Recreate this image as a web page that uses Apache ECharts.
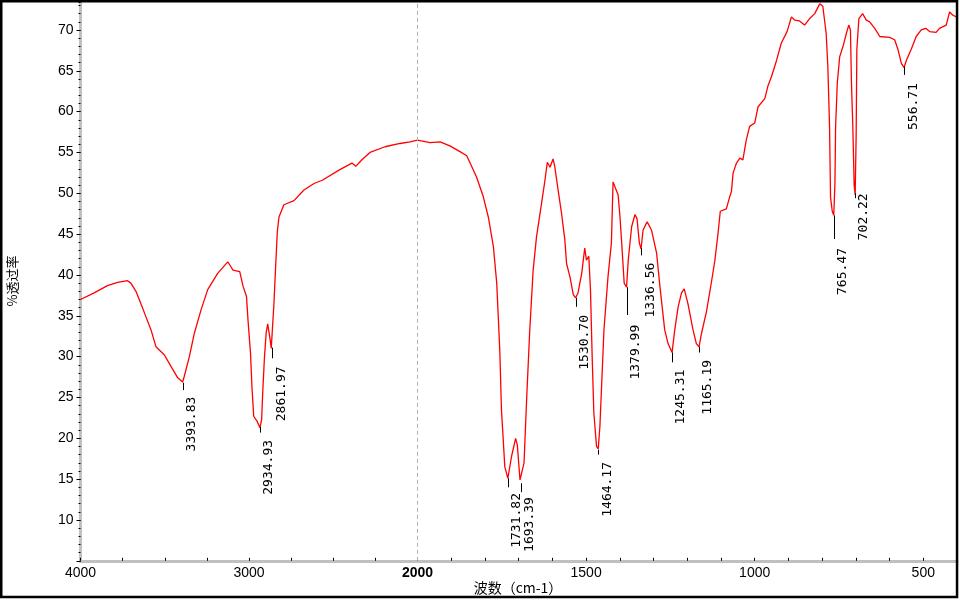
<!DOCTYPE html>
<html>
<head>
<meta charset="utf-8">
<script src="https://cdn.jsdelivr.net/npm/echarts@6/dist/echarts.min.js"></script>
<style>html,body{margin:0;padding:0;background:#fff}#c{width:960px;height:600px}</style>
</head>
<body>
<div id="c"></div>
<script>
// ---- data: wavenumber (cm-1) and % transmittance ----
const wnHigh = [4000,3919,3840,3780,3721,3701,3671,3642,3612,3582,3552,3502,3463,3423,3394,3384,3354,3324,3285,3245,3186,3126,3110,3095,3055,3035,3015,3006,2991,2982,2972,2950,2935,2925,2918,2908,2898,2889,2876,2868,2862,2852,2842,2832,2822,2793,2733,2674,2614,2565,2461,2389,2366,2330,2282,2193,2104,2044,2000];
const tHigh = [37.0,37.8,38.7,39.1,39.3,39.0,38.0,36.5,34.9,33.3,31.2,30.2,28.8,27.4,26.9,27.6,30.0,32.9,35.7,38.2,40.2,41.6,41.1,40.6,40.4,38.6,37.4,34.5,30.4,26.1,22.7,22.0,21.3,22.3,25.9,30.0,32.9,34.0,32.3,31.0,30.8,36.5,41.0,45.3,47.1,48.6,49.1,50.4,51.2,51.6,52.9,53.7,53.3,54.1,55.0,55.7,56.1,56.3,56.5];
const wnLow = [2000,1963,1933,1904,1874,1854,1844,1825,1805,1790,1775,1765,1756,1751,1741,1732,1721,1709,1704,1696,1693,1684,1676,1667,1657,1647,1632,1622,1615,1607,1598,1593,1583,1573,1563,1558,1548,1538,1531,1524,1513,1504,1499,1492,1487,1482,1477,1469,1464,1459,1447,1435,1425,1420,1415,1405,1400,1395,1387,1380,1375,1365,1355,1349,1342,1337,1331,1319,1306,1291,1281,1267,1257,1245,1237,1227,1217,1209,1198,1183,1173,1165,1158,1143,1128,1118,1109,1102,1084,1074,1069,1064,1054,1044,1035,1025,1015,1000,990,970,961,950,935,921,904,891,881,867,852,837,822,807,798,788,783,778,775,770,765.5,762,760,755,748,738,728,721,716,713,709,705,702,699,697,691,680,669,659,644,629,600,585,575,565,557,550,536,521,506,493,481,462,452,432,422,412,402];
const tLow = [56.5,56.2,56.3,55.8,55.1,54.6,53.7,52.0,49.6,47.1,43.5,39.0,30.8,23.5,16.5,15.1,17.8,20.0,19.2,14.9,14.7,17.0,25.1,33.3,40.6,44.7,48.8,51.6,53.8,53.2,54.2,53.3,50.4,47.6,44.3,41.4,39.8,37.6,37.2,37.8,40.2,43.3,41.8,42.3,38.2,30.0,23.1,19.0,18.7,21.5,33.3,39.8,43.9,51.4,51.6,49.8,47.4,44.3,39.0,38.5,41.8,45.9,47.4,46.9,43.9,43.2,45.5,46.5,45.5,42.7,38.6,33.3,31.6,30.5,33.3,36.1,37.8,38.3,36.5,33.3,31.6,31.2,32.8,35.5,39.2,41.8,45.0,47.8,48.1,49.6,50.2,52.5,53.7,54.3,54.1,56.5,58.2,58.6,60.6,61.6,63.1,64.3,66.3,68.4,69.8,71.6,71.2,71.1,70.6,71.4,72.0,73.2,72.9,69.6,65.5,58.2,49.5,47.8,47.3,51.2,58.2,63.5,66.7,68.0,69.6,70.6,70.0,63.5,58.2,51.0,49.8,57.4,67.6,71.4,72.0,71.2,71.0,70.2,69.2,69.1,68.8,67.6,65.9,65.4,66.3,67.6,69.2,70.0,70.2,69.8,69.7,70.2,70.6,72.2,71.8,71.6];

// peak annotations: label, wavenumber, tick start (%T), tick end (%T), label top (%T)
const peakLabels = ['3393.83','2934.93','2861.97','1731.82','1693.39','1530.70','1464.17','1379.99','1336.56','1245.31','1165.19','765.47','702.22','556.71'];
const peakWn     = [3393.83,2934.93,2861.97,1731.82,1693.39,1530.70,1464.17,1379.99,1336.56,1245.31,1165.19,765.47,702.22,556.71];
const peakTickTop = [26.8,21.4,31.1,15.1,14.5,37.2,18.6,38.5,43.3,30.5,31.2,47.3,50.0,65.5];
const peakTickEnd = [25.9,20.7,29.8,14.0,13.4,36.1,18.0,35.1,42.4,29.3,30.5,44.4,49.4,64.5];
const peakTextTop = [25.1,19.8,28.8,13.3,12.8,35.1,17.1,33.9,41.5,28.4,29.6,43.3,50.0,63.5];

const xTicksHigh = [4000,3000,2000];
const xTicksLow = [1500,1000,500];
const yMin = 5, yMax = 73.4;

const pairs = (a,b) => a.map((v,i)=>[v,b[i]]);
const peakRows = (filterFn) => peakWn.map((w,i)=>[w,peakTickTop[i],peakTickEnd[i],peakTextTop[i],i]).filter(r=>filterFn(r[0]));

const chart = echarts.init(document.getElementById('c'), null, {renderer:'canvas'});
const gray = '#c0c0c0';
const labelFont = {fontFamily:'Liberation Sans, Arial, sans-serif', fontSize:14, color:'#000'};

function renderPeak(params, api){
  const i = api.value(4);
  const p1 = api.coord([api.value(0), api.value(1)]);
  const p2 = api.coord([api.value(0), api.value(2)]);
  const p3 = api.coord([api.value(0), api.value(3)]);
  const xl = Math.round(p1[0])+0.5;
  return {type:'group', children:[
    {type:'line', shape:{x1:xl,y1:p1[1],x2:xl,y2:p2[1]}, style:{stroke:'#000',lineWidth:1}},
    {type:'text', x:p1[0]+9, y:p3[1], rotation:Math.PI/2,
     style:{text:peakLabels[i], align:'right', verticalAlign:'middle', font:'13px "DejaVu Sans Mono", monospace', fill:'#000'}}
  ]};
}

const gridTop = 2.2, gridBottom = 39.2;

const option = {
  backgroundColor:'#fff',
  animation:false,
  grid:[
    {left:80.5, width:337, top:gridTop, bottom:gridBottom},
    {left:417.5, width:540, top:gridTop, bottom:gridBottom}
  ],
  xAxis:[
    {type:'value', gridIndex:0, min:2000, max:4000, inverse:true, interval:250,
     axisLine:{show:true, lineStyle:{color:gray, width:3}},
     axisTick:{show:true, inside:true, length:3, lineStyle:{color:'#000'}},
     splitLine:{show:false},
     axisLabel:Object.assign({margin:5, showMinLabel:true, showMaxLabel:true,
       formatter:v=> xTicksHigh.includes(v) ? (v===2000 ? '{b|'+v+'}' : String(v)) : '',
       rich:{b:{fontWeight:'bold', fontFamily:'Liberation Sans, Arial, sans-serif', fontSize:14, color:'#000'}}}, labelFont)},
    {type:'value', gridIndex:1, min:400, max:2000, inverse:true, interval:100,
     axisLine:{show:true, lineStyle:{color:gray, width:3}},
     axisTick:{show:true, inside:true, length:3, lineStyle:{color:'#000'}},
     splitLine:{show:false},
     axisLabel:Object.assign({margin:5, formatter:v=> xTicksLow.includes(v) ? String(v) : ''}, labelFont)}
  ],
  yAxis:[
    {type:'value', gridIndex:0, min:yMin, max:yMax, interval:5, position:'left',
     axisLine:{show:true, lineStyle:{color:gray, width:3}},
     axisTick:{show:true, length:4, lineStyle:{color:'#000', width:1}},
     splitLine:{show:false},
     axisLabel:Object.assign({margin:7, showMaxLabel:false, formatter:v=> (v>=10 && v<=70 && v%5===0) ? String(v) : ''}, labelFont)},
    {type:'value', gridIndex:1, min:yMin, max:yMax, show:false},
    {type:'value', gridIndex:0, min:yMin, max:yMax, interval:1, position:'left', z:5,
     axisLine:{show:false},
     axisTick:{show:true, length:2, lineStyle:{color:'#000', width:1}},
     axisLabel:{show:false}, splitLine:{show:false}}
  ],
  graphic:[
    {type:'text', x:12, y:281, rotation:Math.PI/2, z:100,
     style:{text:'%透过率', font:'13px "Noto Sans CJK SC", sans-serif', fill:'#000', align:'center', verticalAlign:'middle'}},
    {type:'text', x:518, y:588, z:100,
     style:{text:'波数（cm-1）', font:'14px "Noto Sans CJK SC", sans-serif', fill:'#000', align:'center', verticalAlign:'middle'}},
    {type:'rect', z:200, shape:{x:1.25, y:1.25, width:955.8, height:595.75},
     style:{fill:'none', stroke:'#000', lineWidth:2.5}}
  ],
  series:[
    {type:'line', xAxisIndex:0, yAxisIndex:0, data:pairs(wnHigh,tHigh), showSymbol:false, symbol:'none',
     lineStyle:{color:'#ff0000', width:1.3}, z:3},
    {type:'line', xAxisIndex:1, yAxisIndex:1, data:pairs(wnLow,tLow), showSymbol:false, symbol:'none',
     lineStyle:{color:'#ff0000', width:1.3}, z:3,
     markLine:{silent:true, symbol:'none', label:{show:false},
       lineStyle:{color:'#b0b0b0', type:[4,3], width:1}, data:[{xAxis:2000}]}},
    {type:'custom', xAxisIndex:0, yAxisIndex:0, renderItem:renderPeak, clip:false,
     data:peakRows(w=>w>2000), encode:{x:0, y:[1,2,3]}, z:4},
    {type:'custom', xAxisIndex:1, yAxisIndex:1, renderItem:renderPeak, clip:false,
     data:peakRows(w=>w<2000), encode:{x:0, y:[1,2,3]}, z:4}
  ]
};
chart.setOption(option);
</script>
</body>
</html>
